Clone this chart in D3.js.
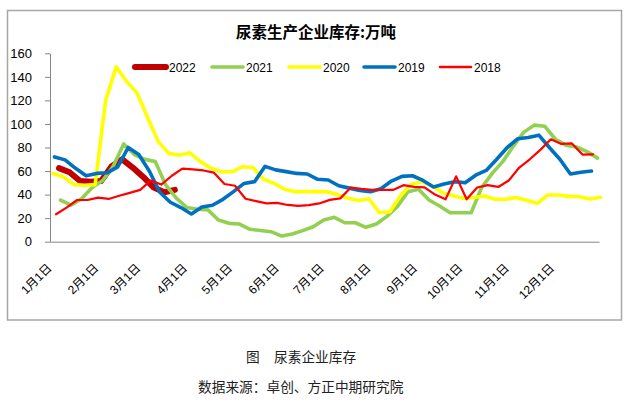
<!DOCTYPE html>
<html><head><meta charset="utf-8">
<script src="https://cdn.jsdelivr.net/npm/d3@7/dist/d3.min.js"></script>
<style>
html,body{margin:0;padding:0;background:#fff;}
svg{display:block;}
</style></head>
<body>
<svg id="chart" width="632" height="408"></svg>
<script>
// ---- data ----
const title = "尿素生产企业库存:万吨";
const caption1a = "图";
const caption1b = "尿素企业库存";
const caption2 = "数据来源：卓创、方正中期研究院";
const monthLabels = ["1月1日","2月1日","3月1日","4月1日","5月1日","6月1日","7月1日","8月1日","9月1日","10月1日","11月1日","12月1日"];
const yTicks = [0,20,40,60,80,100,120,140,160];
const seriesNames = ["2022","2021","2020","2019","2018"];
const seriesStart = ["2022-01-07","2021-01-08","2020-01-03","2019-01-04","2018-01-05"]; // first weekly observation
const seriesColors = ["#C00000","#92D050","#FFFF00","#0070C0","#FF0000"];
const v2022 = [62.5,59,51.5,51,51.5,64,70,63,55,46,42,44];
const v2021 = [35.4,31,36.5,46,52,64,83,74,70,68,48,37,29,27.5,27,18.4,15.6,15,10.5,9.5,8.5,4.8,6.5,9.4,12.7,18.5,20.7,16.1,16.1,12.2,15,21.5,30,42.5,44.5,35.4,30.3,24.6,24.6,24.6,46,58,68,81,93,99,98,87,82,80.5,76.5,71];
const v2020 = [58,55,48.5,48,48.5,120,148.5,136,126,105,85,75,73.5,75.5,68,62.5,59.4,59.4,63.7,63,53,49.5,44.5,42.5,42.5,42.5,42.5,40,37,35,36.5,24.6,25.5,39,48.5,51,47.5,41.5,39,37,37.5,38.8,36,36,37.5,35,32.6,39.7,39.7,38.5,38.2,36.3,37.7];
const v2019 = [72,69.5,62.3,56,58,58.5,63.5,80,74,60,42,33.5,29,23.5,29.5,31,36,42.5,49.5,51,64,61,59.5,58,57.5,53,52.4,47.5,45.5,43.5,42.5,45,51.5,55.5,56,52,46.5,49,51,50,56.5,60.5,70,80,87.5,88.5,90.5,80,70,57.5,59,60];
const v2018 = [23.3,29,35.4,35.4,37.4,36.3,39,41.5,44,52,48.5,56,62,61.5,60.5,58.6,49,47.5,36.5,34.5,32.5,33,31.2,30.5,31,32.5,35.5,36.8,46,44.8,44,44,44,48,46.5,46.2,40,36,55.5,36,46,48,46.5,52,63,70,78,87,83,83.5,74,74.2];
const seriesValues = [v2022,v2021,v2020,v2019,v2018];

// ---- layout ----
const svg = d3.select("#chart");
const W = 632, H = 408;
const plot = {left:50, right:599, top:53.3, bottom:241.7};
const widths = [6,3.6,3.6,3.6,2.2];

svg.append("rect").attr("x",0).attr("y",0).attr("width",W).attr("height",H).attr("fill","#fff");
svg.append("rect").attr("x",7.5).attr("y",10.5).attr("width",614).attr("height",309.5)
  .attr("fill","#fff").attr("stroke","#a6a6a6").attr("stroke-width",1.5);

const x = d3.scaleLinear().domain([0,365]).range([plot.left, plot.right]);
const y = d3.scaleLinear().domain([0,160]).range([plot.bottom, plot.top]);

function dayOfYear(d){ return d3.timeDay.count(d3.timeYear.floor(d), d); }
const parse = d3.timeParse("%Y-%m-%d");

// title
svg.append("text").attr("x",316).attr("y",38).attr("text-anchor","middle")
  .attr("font-family","'Noto Sans CJK SC',sans-serif").attr("font-weight","bold")
  .attr("font-size",15.5).attr("fill","#000").text(title);

// y axis
const yAxis = d3.axisLeft(y).tickValues(yTicks).tickSize(5).tickPadding(13).tickSizeOuter(0);
const gy = svg.append("g").attr("transform",`translate(${plot.left},0)`).call(yAxis);
gy.select(".domain").attr("stroke","#868686");
gy.selectAll(".tick line").attr("stroke","#868686");
gy.selectAll(".tick text").attr("font-family","'Liberation Sans',Arial,sans-serif").attr("font-size",13).attr("fill","#000");

// x axis
const monthDays = [0,31,59,90,120,151,181,212,243,273,304,334];
const xAxis = d3.axisBottom(x).tickValues(monthDays).tickSize(0).tickSizeOuter(0).tickFormat((d,i)=>monthLabels[i]);
const gx = svg.append("g").attr("transform",`translate(0,${plot.bottom})`).call(xAxis);
gx.select(".domain").attr("stroke","#868686");
gx.selectAll(".tick text")
  .attr("font-family","'Liberation Sans','Noto Sans CJK SC',sans-serif").attr("font-size",12).attr("fill","#000")
  .attr("text-anchor","end").attr("dy",0).attr("y",0)
  .attr("transform","translate(2,27) rotate(-45)");

// lines
const line = d3.line().x(d=>x(d.doy)).y(d=>y(d.v)).curve(d3.curveLinear);
seriesNames.forEach((name,si)=>{
  const start = parse(seriesStart[si]);
  const pts = seriesValues[si].map((v,i)=>({doy: dayOfYear(start) + 7*i, v}));
  svg.append("path").datum(pts).attr("d",line).attr("fill","none")
    .attr("stroke",seriesColors[si]).attr("stroke-width",widths[si])
    .attr("stroke-linejoin","round").attr("stroke-linecap","round");
});

// legend
const legX = [135,212,289,364,440];
const lg = svg.append("g");
seriesNames.forEach((name,si)=>{
  lg.append("line").attr("x1",legX[si]).attr("x2",legX[si]+31).attr("y1",67).attr("y2",67)
    .attr("stroke",seriesColors[si]).attr("stroke-width",si===0?6:(si===4?2.5:3.6)).attr("stroke-linecap","round");
  lg.append("text").attr("x",legX[si]+34).attr("y",71.5)
    .attr("font-family","'Liberation Sans',Arial,sans-serif").attr("font-size",12).attr("fill","#000").text(name);
});

// caption
const capFont = "'Noto Sans CJK SC',sans-serif";
svg.append("text").attr("x",246).attr("y",362).attr("font-family",capFont).attr("font-size",13.7).attr("fill","#222").text(caption1a);
svg.append("text").attr("x",274).attr("y",362).attr("font-family",capFont).attr("font-size",13.7).attr("fill","#222").text(caption1b);
svg.append("text").attr("x",198).attr("y",392).attr("font-family",capFont).attr("font-size",13.7).attr("fill","#222").text(caption2);
</script>
</body></html>
